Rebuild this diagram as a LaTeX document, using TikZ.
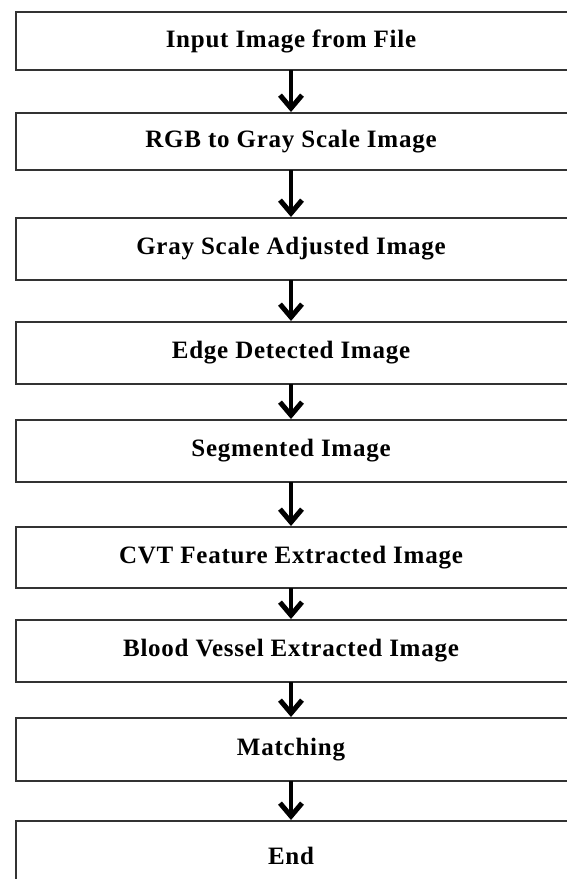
\documentclass[tikz,border=0pt]{standalone}
\usepackage{fontspec}
\setmainfont{Liberation Serif}[LetterSpace=3]
\usetikzlibrary{arrows.meta}
\begin{document}
\begin{tikzpicture}[x=1pt,y=-1pt,
  stepbox/.style={draw=black!80, line width=2.4pt, fill=white},
  steptext/.style={font=\bfseries\fontsize{25}{28}\selectfont, anchor=center, inner sep=0pt},
  flow/.style={line width=4.5pt, black,
    -{Straight Barb[length=13pt, width=22pt, line width=5pt]}, shorten >=1pt}]
\useasboundingbox (0,0) rectangle (567,879);
\begin{scope}
\clip (0,0) rectangle (567,879);
% boxes: name / top / bottom / label
\foreach \n/\t/\b/\txt in {
  b1/12/70/{Input Image from File},
  b2/113/170/{RGB to Gray Scale Image},
  b3/218/280/{Gray Scale Adjusted  Image},
  b4/322/384/{Edge Detected  Image},
  b5/420/482/{Segmented  Image},
  b6/527/588/{CVT Feature Extracted Image},
  b7/620/682/{Blood Vessel Extracted Image},
  b8/718/781/{Matching},
  b9/821/890/{End}}{
  \draw[stepbox] (16,\t) rectangle (580,\b);
  \coordinate (\n-top) at (291,\t);
  \coordinate (\n-bot) at (291,\b);
  \node[steptext] (\n) at (291,{(\t+\b)/2}) {\txt};
}
\end{scope}
\foreach \a/\b in {b1/b2,b2/b3,b3/b4,b4/b5,b5/b6,b6/b7,b7/b8,b8/b9}
  \draw[flow] (\a-bot) -- (\b-top);
\end{tikzpicture}
\end{document}
